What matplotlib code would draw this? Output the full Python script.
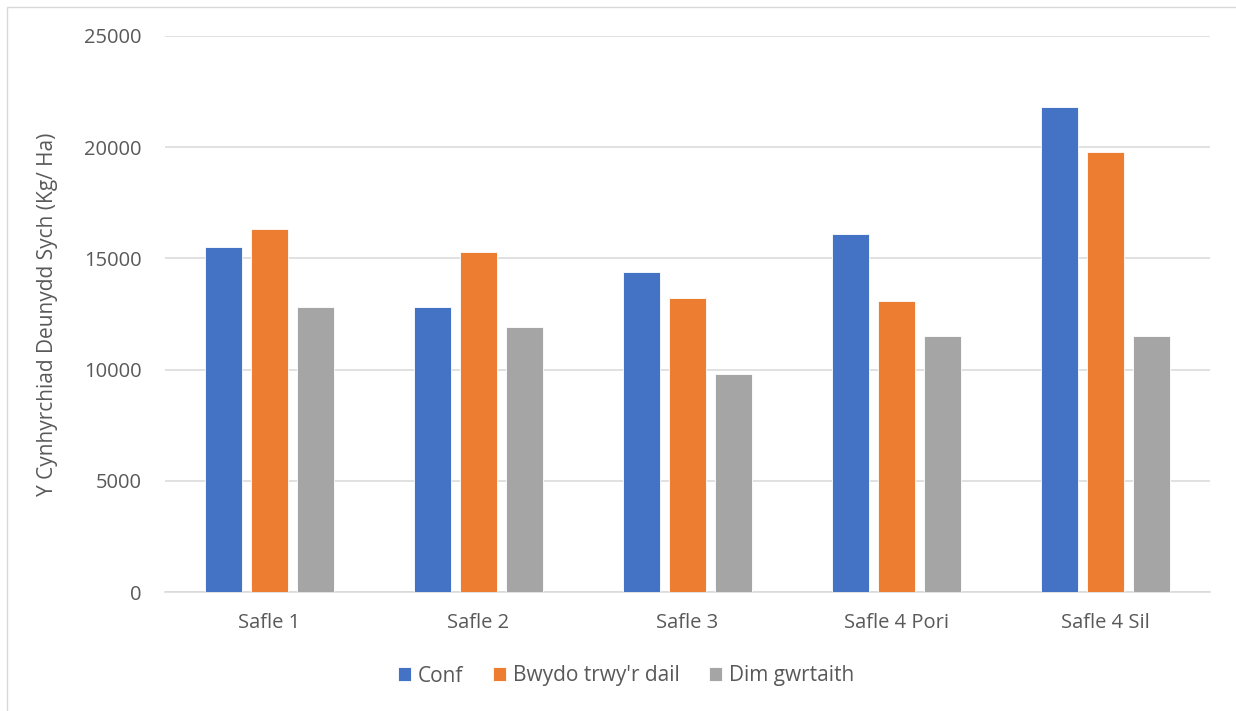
import numpy as np
import matplotlib
matplotlib.use("Agg")
import matplotlib.pyplot as plt
from matplotlib.patches import Rectangle

plt.rcParams['font.family'] = ['Open Sans', 'DejaVu Sans']

sites = ['Safle 1', 'Safle 2', 'Safle 3', 'Safle 4 Pori', 'Safle 4 Sil']
conf = [15500, 12800, 14400, 16100, 21800]
bwydo = [16300, 15300, 13200, 13100, 19800]
dim_gwrtaith = [12800, 11900, 9800, 11500, 11500]
series_names = ['Conf', "Bwydo trwy'r dail", 'Dim gwrtaith']
colors = ['#4472C4', '#ED7D31', '#A5A5A5']
yticks = [0, 5000, 10000, 15000, 20000, 25000]

text_col = '#595959'
grid_col = '#D9D9D9'

fig = plt.figure(figsize=(12.36, 7.11), dpi=100)
ax = fig.add_axes([165 / 1236, 1 - 592 / 711, (1210 - 165) / 1236, (592 - 36) / 711])

x = np.arange(len(sites))
pitch = 0.22
width = 0.175
for i, (vals, name, col) in enumerate(zip([conf, bwydo, dim_gwrtaith], series_names, colors)):
    ax.bar(x + (i - 1) * pitch, vals, width, color=col, label=name,
           edgecolor='white', linewidth=0.6, zorder=3)

ax.set_xlim(-0.5, len(sites) - 0.5)
ax.set_ylim(0, 25000)
ax.set_yticks(yticks)
ax.set_yticklabels([str(v) for v in yticks])
ax.set_xticks(x)
ax.set_xticklabels(sites)
ax.grid(axis='y', color=grid_col, linewidth=1.1, zorder=0)
for s in ['top', 'right', 'left']:
    ax.spines[s].set_visible(False)
ax.spines['bottom'].set_color(grid_col)
ax.spines['bottom'].set_linewidth(1.1)
ax.tick_params(axis='both', length=0, colors=text_col, labelsize=14.5)
ax.tick_params(axis='y', pad=17)
ax.tick_params(axis='x', pad=15)

ax.set_ylabel('Y Cynhyrchiad Deunydd Sych (Kg/ Ha)', fontsize=15, color=text_col)
ax.yaxis.set_label_coords(-(165 - 58) / 1045, 0.5)

fig.legend(loc='center', bbox_to_anchor=(626 / 1236, 1 - 676 / 711), ncol=3,
           frameon=False, fontsize=15, handlelength=0.62, handleheight=0.62,
           handletextpad=0.35, columnspacing=1.4, labelcolor=text_col)

# chart area border (cropped at right and bottom)
fig.patches.append(Rectangle((7 / 1236, -0.1), 1.2, 1 - 7 / 711 + 0.1,
                             transform=fig.transFigure, fill=False,
                             edgecolor=grid_col, linewidth=1.0))

fig.savefig('out.png', dpi=100)
